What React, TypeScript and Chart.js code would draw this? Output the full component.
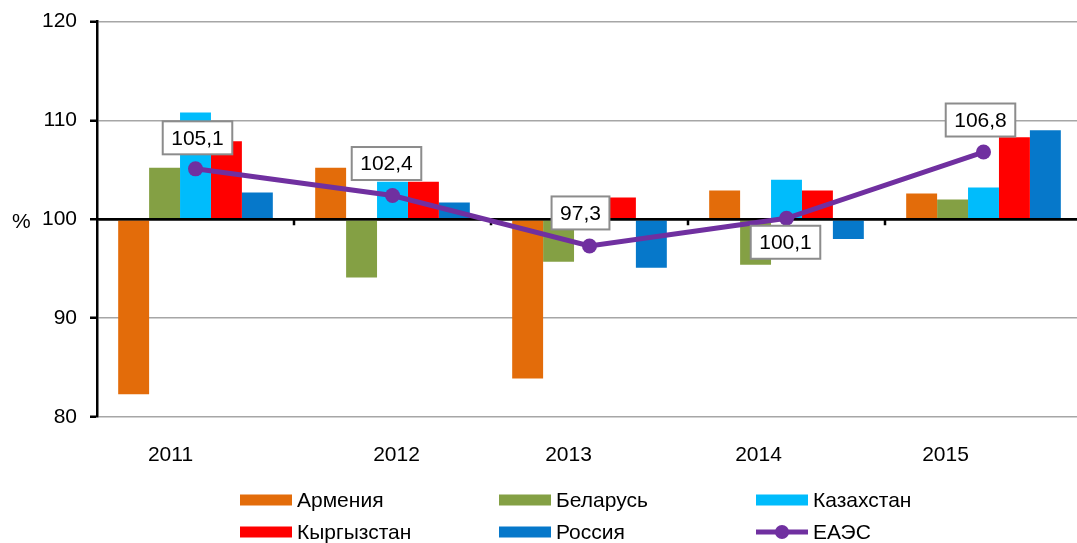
import { useEffect, useRef } from 'react';
import { Chart, registerables } from 'chart.js';

Chart.register(...registerables);

const YEARS = ['2011', '2012', '2013', '2014', '2015'];
const ARMENIA = [82.3, 105.2, 83.9, 102.9, 102.6];
const BELARUS = [105.2, 94.1, 95.7, 95.4, 102.0];
const KAZAKHSTAN = [110.8, 103.8, 101.2, 104.0, 103.2];
const KYRGYZSTAN = [107.9, 103.8, 102.2, 102.9, 108.3];
const RUSSIA = [102.7, 101.7, 95.1, 98.0, 109.0];
const EAEU = [105.1, 102.4, 97.3, 100.1, 106.8];
const SERIES_NAMES = ['Армения', 'Беларусь', 'Казахстан', 'Кыргызстан', 'Россия', 'ЕАЭС'];
const Y_MIN = 80;
const Y_MAX = 120;
const Y_STEP = 10;
const BASE_VALUE = 100;

const COLORS = ['#E36C0A', '#84A044', '#00BCFC', '#FF0000', '#0678CA', '#7030A0'];
const FONT = '"Liberation Sans", Arial, sans-serif';
const FONT_SIZE = 21;

// layout/style constants
const PLOT_RIGHT_OVERFLOW = 5;
const PLOT_TOP = 21.5;
const X_LABEL_SHIFT = [-25, 4, -21, -28, -38];
const DL_DX = [2, -6, -9, -1, -3];
const DL_DY = [-31, -32, -33, 24, -32];
const LEGEND_COLS = [240, 499, 756];
const LEGEND_ROWS = [500, 532];

const fmt = (v: number) => v.toFixed(1).replace('.', ',');

const overlayPlugin = {
  id: 'overlay',
  afterLayout(chart: any) {
    const x = chart.scales.x;
    const y = chart.scales.y;
    x.right += PLOT_RIGHT_OVERFLOW;
    x.width += PLOT_RIGHT_OVERFLOW;
    x.configure();
    y.top = PLOT_TOP;
    y.height = y.bottom - y.top;
    y.configure();
    const ca = chart.chartArea;
    ca.right += PLOT_RIGHT_OVERFLOW;
    ca.width = ca.right - ca.left;
    ca.top = PLOT_TOP;
    ca.height = ca.bottom - ca.top;
  },
  beforeDatasetDraw(chart: any, args: any) {
    if (args.index !== 5) return;
    const { ctx, chartArea, scales } = chart;
    const x = scales.x;
    const y = scales.y;
    const y0 = y.getPixelForValue(BASE_VALUE);
    ctx.save();
    ctx.strokeStyle = '#000';
    ctx.lineWidth = 2.5;
    ctx.beginPath();
    ctx.moveTo(chartArea.left, y0);
    ctx.lineTo(chartArea.right + 20, y0);
    const n = YEARS.length;
    for (let i = 0; i < n; i++) {
      const p = x.getPixelForValue(i);
      const next = i + 1 < n ? x.getPixelForValue(i + 1) : 2 * p - x.getPixelForValue(i - 1);
      const bx = Math.round((p + next) / 2);
      ctx.moveTo(bx, y0);
      ctx.lineTo(bx, y0 + 6);
    }
    ctx.stroke();
    ctx.restore();
  },
  afterDatasetsDraw(chart: any) {
    const { ctx } = chart;
    const meta = chart.getDatasetMeta(5);
    ctx.save();
    ctx.font = `${FONT_SIZE}px ${FONT}`;
    ctx.textAlign = 'center';
    ctx.textBaseline = 'middle';
    meta.data.forEach((pt: any, i: number) => {
      const text = fmt(EAEU[i]);
      const tw = ctx.measureText(text).width;
      const w = tw + 17;
      const h = 33;
      const cx = pt.x + DL_DX[i];
      const cy = pt.y + DL_DY[i];
      ctx.fillStyle = '#fff';
      ctx.fillRect(cx - w / 2, cy - h / 2, w, h);
      ctx.strokeStyle = '#8C8C8C';
      ctx.lineWidth = 2;
      ctx.strokeRect(cx - w / 2, cy - h / 2, w, h);
      ctx.fillStyle = '#000';
      ctx.fillText(text, cx, cy + 1);
    });
    ctx.restore();
  },
  afterDraw(chart: any) {
    const { ctx, scales } = chart;
    const x = scales.x;
    const y = scales.y;
    ctx.save();
    ctx.font = `${FONT_SIZE}px ${FONT}`;
    ctx.fillStyle = '#000';
    ctx.textBaseline = 'middle';
    // x labels
    ctx.textAlign = 'center';
    YEARS.forEach((lab, i) => {
      ctx.fillText(lab, x.getPixelForValue(i) + X_LABEL_SHIFT[i], 455);
    });
    // % sign
    ctx.textAlign = 'left';
    ctx.fillText('%', 12, y.getPixelForValue(BASE_VALUE) + 3);
    // legend
    SERIES_NAMES.forEach((name, i) => {
      const col = i % 3;
      const row = Math.floor(i / 3);
      const sx = LEGEND_COLS[col];
      const cy = LEGEND_ROWS[row];
      if (i < 5) {
        ctx.fillStyle = COLORS[i];
        ctx.fillRect(sx, cy - 5.5, 52, 11);
      } else {
        ctx.strokeStyle = COLORS[i];
        ctx.lineWidth = 5;
        ctx.beginPath();
        ctx.moveTo(sx, cy);
        ctx.lineTo(sx + 52, cy);
        ctx.stroke();
        ctx.fillStyle = COLORS[i];
        ctx.beginPath();
        ctx.arc(sx + 26, cy, 7, 0, Math.PI * 2);
        ctx.fill();
      }
      ctx.fillStyle = '#000';
      ctx.fillText(name, sx + 57, cy + 1);
    });
    ctx.restore();
  },
};

export default function App() {
  const ref = useRef<HTMLCanvasElement | null>(null);

  useEffect(() => {
    if (!ref.current) return;
    const barSets = [ARMENIA, BELARUS, KAZAKHSTAN, KYRGYZSTAN, RUSSIA].map((d, i) => ({
      type: 'bar' as const,
      label: SERIES_NAMES[i],
      data: d,
      base: BASE_VALUE,
      backgroundColor: COLORS[i],
      borderWidth: 0,
      categoryPercentage: 0.785,
      barPercentage: 1.0,
      order: 1,
    }));
    const chart = new Chart(ref.current, {
      type: 'bar',
      data: {
        labels: YEARS,
        datasets: [
          ...barSets,
          {
            type: 'line' as const,
            label: SERIES_NAMES[5],
            data: EAEU,
            borderColor: COLORS[5],
            backgroundColor: COLORS[5],
            borderWidth: 5,
            pointRadius: 7.5,
            pointBackgroundColor: COLORS[5],
            pointBorderWidth: 0,
            tension: 0,
            order: 0,
          } as any,
        ],
      },
      options: {
        responsive: false,
        animation: false,
        layout: { autoPadding: false, padding: { top: 18, right: 0, left: 0, bottom: 0 } },
        plugins: {
          legend: { display: false },
          tooltip: { enabled: false },
        },
        scales: {
          x: {
            grid: { display: false },
            border: { display: false },
            ticks: { display: false },
            afterFit: (s: any) => {
              s.height = 126;
            },
          },
          y: {
            min: Y_MIN,
            max: Y_MAX,
            ticks: {
              stepSize: Y_STEP,
              color: '#000',
              padding: 13,
              font: { family: FONT, size: FONT_SIZE },
            },
            grid: {
              color: (c: any) => (c.tick && c.tick.value === BASE_VALUE ? '#000' : '#A6A6A6'),
              lineWidth: (c: any) => (c.tick && c.tick.value === BASE_VALUE ? 2.5 : 1.5),
              tickColor: '#000',
              tickWidth: 2.5,
              tickLength: 7,
              drawTicks: true,
            },
            border: { color: '#000', width: 2.5 },
            afterFit: (s: any) => {
              s.width = 97;
            },
          },
        },
      },
      plugins: [overlayPlugin],
    });
    return () => chart.destroy();
  }, []);

  return (
    <div style={{ position: 'absolute', left: 0, top: 0, width: 1077, height: 543, background: '#fff' }}>
      <canvas ref={ref} width={1077} height={543} />
    </div>
  );
}
